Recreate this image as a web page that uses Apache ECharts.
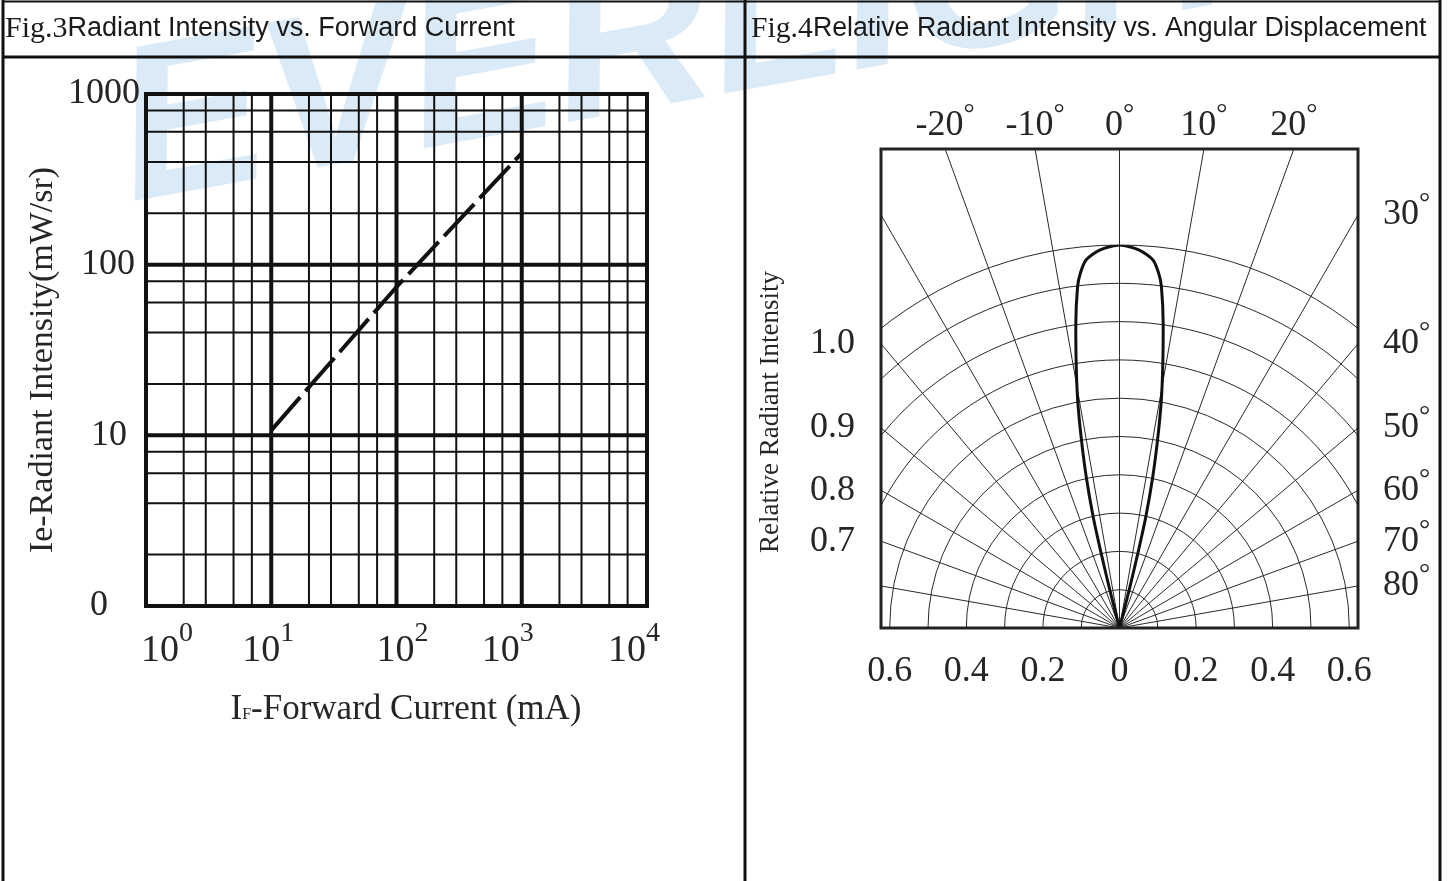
<!DOCTYPE html>
<html>
<head>
<meta charset="utf-8">
<script src="https://cdn.jsdelivr.net/npm/echarts@6/dist/echarts.min.js"></script>
<style>html,body{margin:0;padding:0;background:#fff;}#c{width:1451px;height:881px;}</style>
</head>
<body>
<div id="c"></div>
<script>
// ---------- Fig.3 : Radiant Intensity vs. Forward Current ----------
const currentMA = [10, 100, 1000];
const radiantIntensity = [10.7, 74, 450];
const xDecades = [1, 10, 100, 1000, 10000];
const xMinor = [2, 3, 5, 7, 20, 30, 50, 70, 200, 300, 500, 700, 2000, 3000, 5000, 7000];
const yDecades = [1, 10, 100, 1000];
const yMinor = [2, 4, 6, 8, 20, 40, 60, 80, 200, 400, 600, 800];
const yTickText = ['0', '10', '100', '1000'];
const xTickSup = ['0', '1', '2', '3', '4'];

// ---------- Fig.4 : Relative Radiant Intensity vs. Angular Displacement ----------
const angleDeg = [-15, -14.3, -13.8, -13.3, -12.4, -11.4, -10.4, -9.3, -8.2, -7.0, -6.3, -5.2, -3.0, 0,
                  3.0, 5.2, 6.3, 7.0, 8.2, 9.3, 10.4, 11.4, 12.4, 13.3, 13.8, 14.3, 15];
const relIntensity = [0, 0.1, 0.2, 0.3, 0.405, 0.505, 0.605, 0.70, 0.80, 0.898, 0.932, 0.965, 0.988, 1.0,
                      0.988, 0.965, 0.932, 0.898, 0.80, 0.70, 0.605, 0.505, 0.405, 0.3, 0.2, 0.1, 0];
const ringStep = 0.1;
const spokeStep = 10;
const topAngleLabels = [-20, -10, 0, 10, 20];
const sideAngleLabels = [30, 40, 50, 60, 70, 80];
const leftIntensityText = ['1.0', '0.9', '0.8', '0.7'];
const leftIntensityAt = [40, 50, 60, 70];
const bottomRadiusLabels = [-0.6, -0.4, -0.2, 0, 0.2, 0.4, 0.6];

// ---------- layout ----------
const deg = Math.PI / 180;
const F3 = {left: 146, top: 94, width: 501, height: 512};
const F4 = {left: 881, top: 149, right: 1358, bottom: 628};
const unitPx = 383;
const cx = (F4.left + F4.right) / 2, cy = F4.bottom;
const xHalf = (F4.right - F4.left) / 2 / unitPx;
const yMax = (F4.bottom - F4.top) / unitPx;

const serif = '"Liberation Serif", "Times New Roman", serif';
const sans = '"Liberation Sans", Arial, sans-serif';
const ink = '#111';
const txt = '#262626';

function nearestIdx(arr, v) {
  let b = 0;
  arr.forEach((a, i) => { if (Math.abs(a - v) < Math.abs(arr[b] - v)) b = i; });
  return b;
}
const topPos = topAngleLabels.map(a => yMax * Math.tan(a * deg));
const sidePos = sideAngleLabels.map(a => xHalf / Math.tan(a * deg));
const leftPos = leftIntensityAt.map(a => xHalf / Math.tan(a * deg));

const degRich = {
  n: {fontSize: 36, lineHeight: 50, fontFamily: serif, color: txt},
  d: {fontSize: 28, lineHeight: 28, verticalAlign: 'top', fontFamily: serif, color: txt}
};

// grid lines of Fig.3, one line series per grid line, built from the tick arrays
const xLo = xDecades[0], xHi = xDecades[xDecades.length - 1];
const yLo = yDecades[0], yHi = yDecades[yDecades.length - 1];
function vLine(v, w) {
  return {type: 'line', xAxisIndex: 0, yAxisIndex: 0, zlevel: 2, z: 1, silent: true, symbol: 'none',
          data: [[v, yLo], [v, yHi]], lineStyle: {color: ink, width: w}};
}
function hLine(v, w) {
  return {type: 'line', xAxisIndex: 0, yAxisIndex: 0, zlevel: 2, z: 1, silent: true, symbol: 'none',
          data: [[xLo, v], [xHi, v]], lineStyle: {color: ink, width: w}};
}
const gridSeries = [];
xMinor.forEach(v => gridSeries.push(vLine(v, 2)));
yMinor.forEach(v => gridSeries.push(hLine(v, 2)));
xDecades.slice(1, -1).forEach(v => gridSeries.push(vLine(v, 4)));
yDecades.slice(1, -1).forEach(v => gridSeries.push(hLine(v, 4)));

const xRich = {};
const bPads = [42, 0, 12, 0, 0];
const sPads = [0, 6, 0, 28, 26];
bPads.forEach((p, i) => { xRich['b' + i] = {fontSize: 38, lineHeight: 62, fontFamily: serif, color: txt, padding: [0, 0, 0, p]}; });
sPads.forEach((p, i) => { xRich['s' + i] = {fontSize: 28, lineHeight: 28, verticalAlign: 'top', fontFamily: serif, color: txt, padding: [0, p, 0, 0]}; });
const yRich = {};
[32, 13, 5, 0].forEach((p, i) => { yRich['y' + i] = {fontSize: 36, fontFamily: serif, color: txt, padding: [0, p, 0, 0]}; });

const chart = echarts.init(document.getElementById('c'), null, {renderer: 'canvas', width: 1451, height: 881});

const maskStyle = {fill: '#ffffff'};
const lineStyleT = {stroke: ink, lineWidth: 3};

const option = {
  animation: false,
  backgroundColor: '#ffffff',
  grid: [
    {left: F3.left, top: F3.top, width: F3.width, height: F3.height, show: true, borderColor: ink, borderWidth: 4,
     zlevel: 2, containLabel: false, outerBoundsMode: 'none'},
    {left: F4.left, top: F4.top, width: F4.right - F4.left, height: F4.bottom - F4.top, show: true,
     borderColor: '#222', borderWidth: 3, zlevel: 2, containLabel: false, outerBoundsMode: 'none'}
  ],
  xAxis: [
    {gridIndex: 0, type: 'log', logBase: 10, min: 1, max: 10000, zlevel: 2,
     axisLine: {show: false}, axisTick: {show: false}, splitLine: {show: false},
     axisLabel: {margin: 14, hideOverlap: false,
       formatter: v => { const i = Math.round(Math.log10(v)); return '{b' + i + '|10}{s' + i + '|' + xTickSup[i] + '}'; },
       rich: xRich},
     name: '{a|I}{f|F}{a|-Forward Current (mA)}', nameLocation: 'middle', nameGap: 84, nameMoveOverlap: false,
     nameTextStyle: {fontFamily: serif, fontSize: 35, color: txt, padding: [0, 0, 0, 19],
       rich: {a: {fontFamily: serif, fontSize: 35, color: txt, lineHeight: 40},
              f: {fontFamily: serif, fontSize: 16, color: txt, lineHeight: 16, verticalAlign: 'bottom', padding: [0, 0, 7, 0]}}}},
    {gridIndex: 1, type: 'value', min: -xHalf, max: xHalf, position: 'bottom', zlevel: 2,
     axisLine: {show: false}, axisTick: {show: false}, splitLine: {show: false},
     axisLabel: {customValues: bottomRadiusLabels, margin: 24, fontSize: 36, lineHeight: 40, fontFamily: serif, color: txt,
       hideOverlap: false, formatter: v => (Math.abs(v) < 1e-9 ? '0' : Math.abs(v).toFixed(1))}},
    {gridIndex: 1, type: 'value', min: -xHalf, max: xHalf, position: 'top', zlevel: 2,
     axisLine: {show: false}, axisTick: {show: false}, splitLine: {show: false},
     axisLabel: {customValues: topPos, margin: -2, hideOverlap: false, rich: degRich,
       formatter: v => '{n|' + topAngleLabels[nearestIdx(topPos, v)] + '}{d|°}'}}
  ],
  yAxis: [
    {gridIndex: 0, type: 'log', logBase: 10, min: 1, max: 1000, zlevel: 2,
     axisLine: {show: false}, axisTick: {show: false}, splitLine: {show: false},
     axisLabel: {margin: 6, hideOverlap: false, fontSize: 36, fontFamily: serif, color: txt,
       formatter: v => { const i = Math.round(Math.log10(v)); return '{y' + i + '|' + yTickText[i] + '}'; },
       rich: yRich},
     name: 'Ie-Radiant Intensity(mW/sr)', nameLocation: 'middle', nameRotate: 90, nameGap: 86, nameMoveOverlap: false,
     nameTextStyle: {fontFamily: serif, fontSize: 34, color: txt, padding: [0, 20, 0, 0]}},
    {gridIndex: 1, type: 'value', min: 0, max: yMax, position: 'right', zlevel: 2,
     axisLine: {show: false}, axisTick: {show: false}, splitLine: {show: false},
     axisLabel: {customValues: sidePos, margin: 25, hideOverlap: false, rich: degRich,
       formatter: v => '{n|' + sideAngleLabels[nearestIdx(sidePos, v)] + '}{d|°}'}},
    {gridIndex: 1, type: 'value', min: 0, max: yMax, position: 'left', zlevel: 2,
     axisLine: {show: false}, axisTick: {show: false}, splitLine: {show: false},
     axisLabel: {customValues: leftPos, margin: 26, hideOverlap: false, rich: degRich,
       formatter: v => '{n|' + leftIntensityText[nearestIdx(leftPos, v)] + '}'}}
  ],
  polar: [
    {center: [cx, cy], radius: unitPx},
    {center: [cx, cy], radius: 545}
  ],
  angleAxis: [
    {polarIndex: 0, type: 'value', min: -180, max: 180, startAngle: 270, clockwise: true, show: false},
    {polarIndex: 1, type: 'value', min: -180, max: 180, interval: spokeStep, startAngle: 270, clockwise: true,
     axisLine: {show: false}, axisTick: {show: false}, axisLabel: {show: false},
     splitLine: {show: true, lineStyle: {color: '#2a2a2a', width: 1}}}
  ],
  radiusAxis: [
    {polarIndex: 0, type: 'value', min: 0, max: 1, interval: ringStep,
     axisLine: {show: false}, axisTick: {show: false}, axisLabel: {show: false},
     splitLine: {show: true, lineStyle: {color: '#2a2a2a', width: 1}}},
    {polarIndex: 1, type: 'value', min: 0, max: 1, show: false}
  ],
  series: gridSeries.concat([
    {type: 'line', name: 'Ie', xAxisIndex: 0, yAxisIndex: 0, zlevel: 2, z: 5,
     data: currentMA.map((x, i) => [x, radiantIntensity[i]]),
     symbol: 'none', lineStyle: {color: ink, width: 4, type: [44, 8]}},
    {type: 'line', name: 'pattern', coordinateSystem: 'polar', polarIndex: 0, z: 5,
     data: angleDeg.map((a, i) => [relIntensity[i], a]),
     symbol: 'none', smooth: 0.25, lineStyle: {color: ink, width: 3}}
  ]),
  graphic: {
    elements: [
      // masks that crop the polar grid to the rectangular frame
      {type: 'rect', zlevel: 1, z: 0, silent: true, shape: {x: 0, y: 0, width: 1451, height: F4.top - 1}, style: maskStyle},
      {type: 'rect', zlevel: 1, z: 0, silent: true, shape: {x: 0, y: F4.bottom + 1, width: 1451, height: 881 - F4.bottom}, style: maskStyle},
      {type: 'rect', zlevel: 1, z: 0, silent: true, shape: {x: 0, y: 0, width: F4.left - 1, height: 881}, style: maskStyle},
      {type: 'rect', zlevel: 1, z: 0, silent: true, shape: {x: F4.right + 1, y: 0, width: 1451 - F4.right, height: 881}, style: maskStyle},
      // watermark
      {type: 'text', zlevel: 1, z: 10, silent: true, x: 140, y: 250, rotation: 0.18,
       style: {text: 'EVERLIGHT', font: 'italic bold 220px "Liberation Sans", Arial, sans-serif',
               fill: 'rgba(160,200,235,0.38)', verticalAlign: 'bottom', textVerticalAlign: 'bottom'}},
      // table lines
      {type: 'line', zlevel: 2, z: 50, silent: true, shape: {x1: 2, y1: 1.5, x2: 1441, y2: 1.5}, style: {stroke: ink, lineWidth: 2}},
      {type: 'line', zlevel: 2, z: 50, silent: true, shape: {x1: 3, y1: 0, x2: 3, y2: 881}, style: lineStyleT},
      {type: 'line', zlevel: 2, z: 50, silent: true, shape: {x1: 2, y1: 57, x2: 1441, y2: 57}, style: lineStyleT},
      {type: 'line', zlevel: 2, z: 50, silent: true, shape: {x1: 745, y1: 0, x2: 745, y2: 881}, style: lineStyleT},
      {type: 'line', zlevel: 2, z: 50, silent: true, shape: {x1: 1440, y1: 0, x2: 1440, y2: 881}, style: lineStyleT},
      // titles
      {type: 'text', zlevel: 2, z: 50, silent: true, x: 5, y: 29,
       style: {text: '{f|Fig.3}{s|Radiant Intensity vs. Forward Current}', align: 'left', textAlign: 'left',
               verticalAlign: 'middle', textVerticalAlign: 'middle',
               rich: {f: {fontFamily: serif, fontSize: 30, fill: '#1a1a1a', color: '#1a1a1a'},
                      s: {fontFamily: sans, fontSize: 27, fill: '#1a1a1a', color: '#1a1a1a'}}}},
      {type: 'text', zlevel: 2, z: 50, silent: true, x: 751, y: 29, scaleX: 0.99,
       style: {text: '{f|Fig.4}{s|Relative Radiant Intensity vs. Angular Displacement}', align: 'left', textAlign: 'left',
               verticalAlign: 'middle', textVerticalAlign: 'middle',
               rich: {f: {fontFamily: serif, fontSize: 30, fill: '#1a1a1a', color: '#1a1a1a'},
                      s: {fontFamily: sans, fontSize: 27, fill: '#1a1a1a', color: '#1a1a1a'}}}},
      // rotated axis title of Fig.4
      {type: 'text', zlevel: 2, z: 50, silent: true, x: 771, y: 412, rotation: Math.PI / 2,
       style: {text: 'Relative Radiant Intensity', fontFamily: serif, fontSize: 27, font: '27px ' + serif, fill: txt,
               align: 'center', textAlign: 'center', verticalAlign: 'middle', textVerticalAlign: 'middle'}}
    ]
  }
};
chart.setOption(option);
</script>
</body>
</html>
